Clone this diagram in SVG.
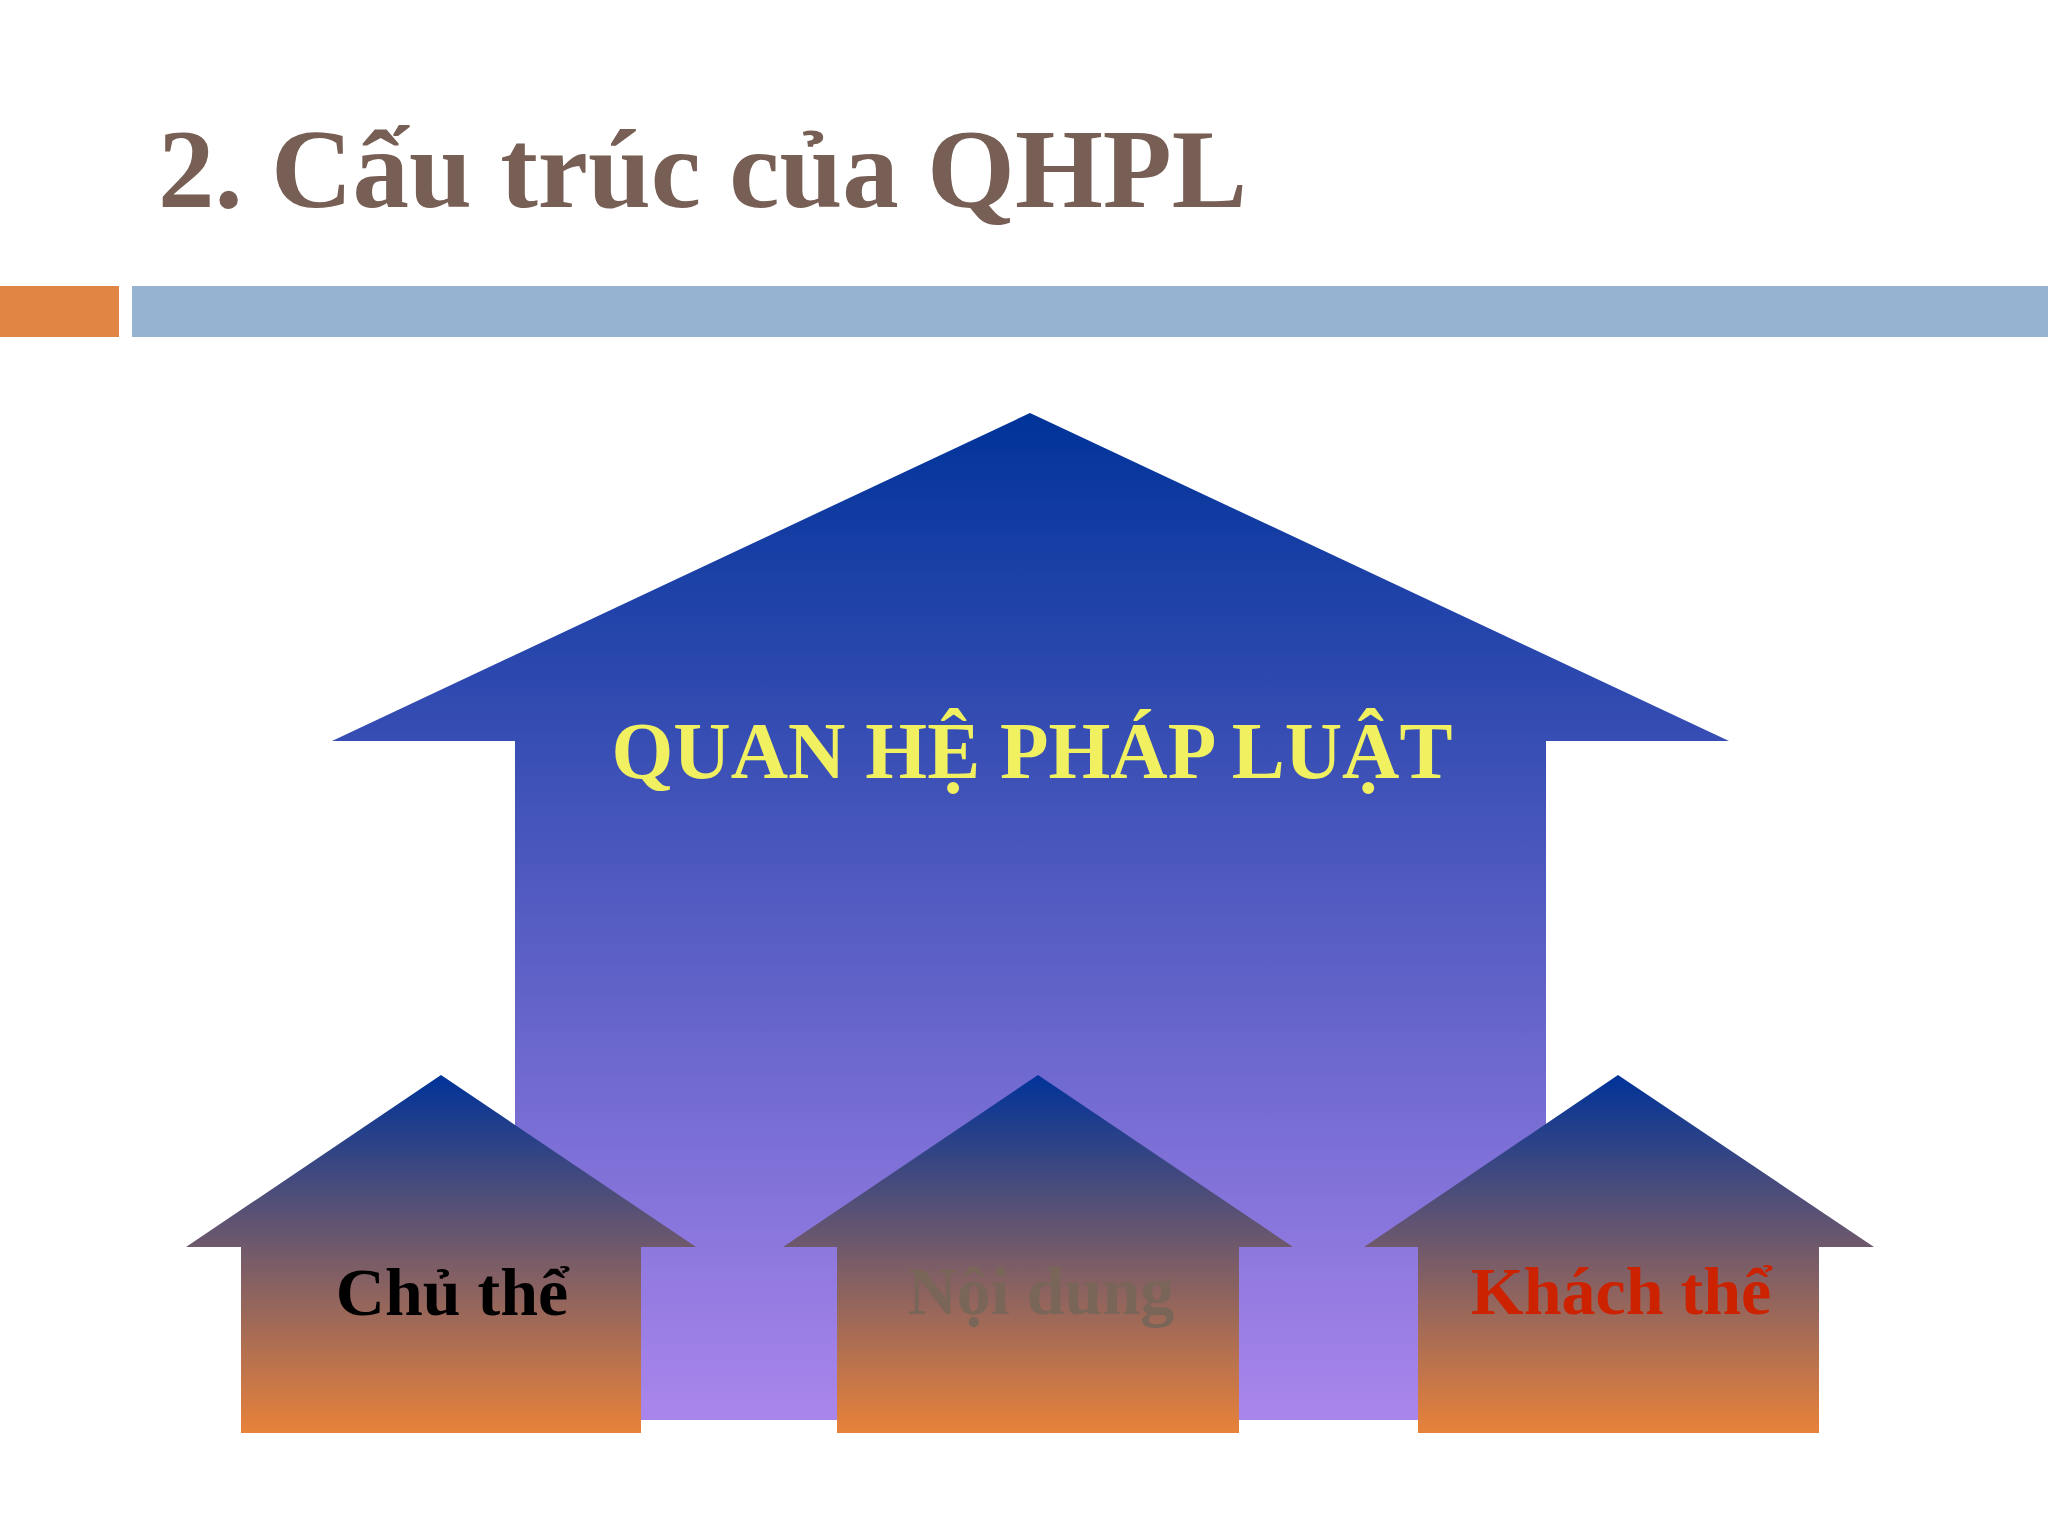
<svg xmlns="http://www.w3.org/2000/svg" width="2048" height="1536" viewBox="0 0 2048 1536">
<defs>
<linearGradient id="gBig" x1="0" y1="0" x2="0" y2="1">
<stop offset="0" stop-color="#003399"/>
<stop offset="1" stop-color="#AA86EC"/>
</linearGradient>
<linearGradient id="gSmall" x1="0" y1="0" x2="0" y2="1">
<stop offset="0" stop-color="#003399"/>
<stop offset="1" stop-color="#E8823A"/>
</linearGradient>
<style>
.t{font-family:"Liberation Serif","Times New Roman",serif;font-weight:bold;}
.lbl{font-size:68px;text-anchor:middle;}
</style>
</defs>
<rect width="2048" height="1536" fill="#FFFFFF"/>
<g id="title">
<text class="t" x="158" y="207" font-size="113" fill="#775F55">2. Cấu trúc của QHPL</text>
</g>
<g id="bars">
<rect x="0" y="286" width="119" height="51" fill="#E08543"/>
<rect x="132" y="286" width="1916" height="51" fill="#96B4D2"/>
</g>
<g id="node-qhpl">
<polygon points="1030,413 1729,741 1546,741 1546,1420 515,1420 515,741 332,741" fill="url(#gBig)"/>
<text class="t" x="1032" y="778" font-size="80" text-anchor="middle" fill="#F0F060" textLength="841" lengthAdjust="spacingAndGlyphs">QUAN HỆ PHÁP LUẬT</text>
</g>
<g id="node-chuthe">
<polygon points="441,1075 696,1247 641,1247 641,1433 241,1433 241,1247 186,1247" fill="url(#gSmall)"/>
<text class="t lbl" x="452" y="1315" fill="#000000">Chủ thể</text>
</g>
<g id="node-noidung">
<polygon points="1038,1075 1293,1247 1239,1247 1239,1433 837,1433 837,1247 783,1247" fill="url(#gSmall)"/>
<text class="t lbl" x="1041" y="1314" fill="#7A6658">Nội dung</text>
</g>
<g id="node-khachthe">
<polygon points="1618,1075 1874,1247 1819,1247 1819,1433 1418,1433 1418,1247 1364,1247" fill="url(#gSmall)"/>
<text class="t lbl" x="1621" y="1314" fill="#CC2200">Khách thể</text>
</g>
<g id="connectors"/>
</svg>
